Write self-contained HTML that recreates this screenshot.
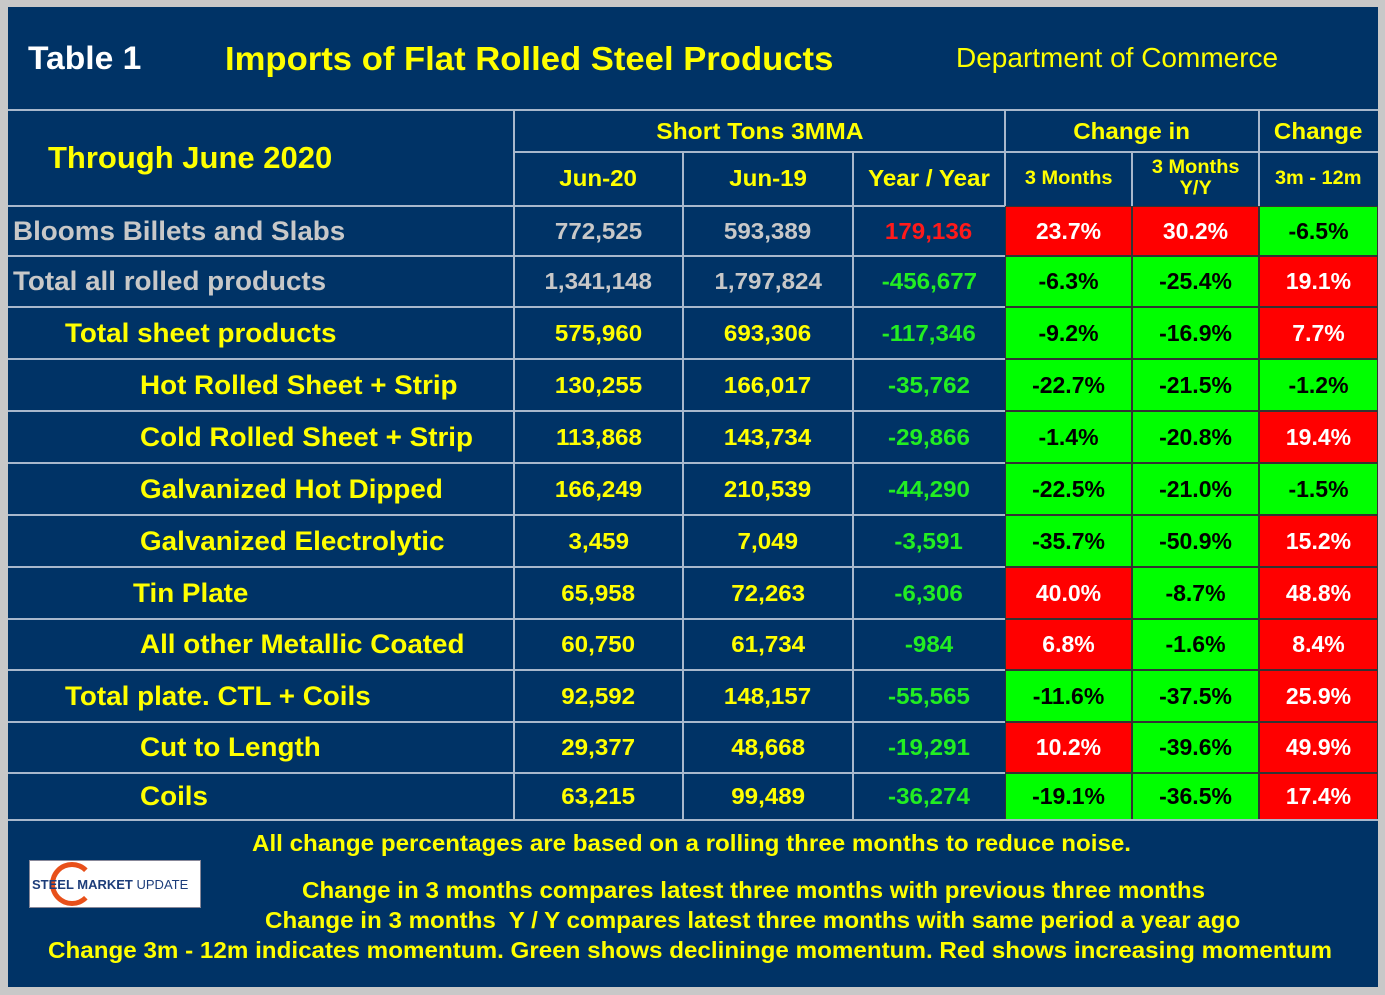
<!DOCTYPE html>
<html><head><meta charset="utf-8"><style>
body{margin:0;width:1385px;height:995px;background:#c8c8c8;overflow:hidden;font-family:"Liberation Sans",Arial,sans-serif;font-weight:bold}
#panel{position:absolute;left:8px;top:7px;width:1370px;height:980px;background:#003366}
.t{position:absolute;white-space:nowrap;transform-origin:left center}
.c{position:absolute;display:flex;align-items:center;justify-content:center;box-sizing:border-box;white-space:nowrap}
.c span{display:inline-block}
.hl{position:absolute;background:#a8b8cc;height:2px}
.vl{position:absolute;background:#a8b8cc;width:2px}
</style></head><body>
<div id="panel"></div>
<div class="t" style="left:28px;top:40px;font-size:32px;color:#fff;transform:scaleX(1.05)">Table 1</div>
<div class="t" style="left:225px;top:40px;font-size:33px;color:#ffff00;transform:scaleX(1.05)">Imports of Flat Rolled Steel Products</div>
<div class="t" style="left:956px;top:42px;font-size:28px;font-weight:normal;color:#ffff00">Department of Commerce</div>
<div class="t" style="left:48px;top:140px;font-size:31px;color:#ffff00">Through June 2020</div>
<div id="grid"></div>
<div class="t" style="left:252px;top:830px;font-size:23px;color:#ffff00;transform:scaleX(1.05)">All change percentages are based on a rolling three months to reduce noise.</div>
<div class="t" style="left:302px;top:877px;font-size:23px;color:#ffff00;transform:scaleX(1.05)">Change in 3 months compares latest three months with previous three months</div>
<div class="t" style="left:265px;top:907px;font-size:23px;color:#ffff00;transform:scaleX(1.05)">Change in 3 months&nbsp; Y / Y compares latest three months with same period a year ago</div>
<div class="t" style="left:48px;top:937px;font-size:23px;color:#ffff00;transform:scaleX(1.052)">Change 3m - 12m indicates momentum. Green shows declininge momentum. Red shows increasing momentum</div>
<div style="position:absolute;left:29px;top:860px;width:170px;height:46px;background:#fff;border:1px solid #889;overflow:hidden">
<div style="position:absolute;left:20px;top:1px;width:44px;height:44px;border-radius:50%;border:5px solid #e8501a;border-right-color:transparent;box-sizing:border-box"></div>
<div style="position:absolute;left:2px;top:16px;font-size:13px;color:#1d3d7a;white-space:nowrap">STEEL MARKET <span style="font-weight:normal">UPDATE</span></div></div>
<script>
const labels=["Blooms Billets and Slabs","Total all rolled products","Total sheet products","Hot Rolled Sheet + Strip","Cold Rolled Sheet + Strip","Galvanized Hot Dipped","Galvanized Electrolytic","Tin Plate","All other Metallic Coated","Total plate. CTL + Coils","Cut to Length","Coils"];
const jun20=["772,525","1,341,148","575,960","130,255","113,868","166,249","3,459","65,958","60,750","92,592","29,377","63,215"];
const jun19=["593,389","1,797,824","693,306","166,017","143,734","210,539","7,049","72,263","61,734","148,157","48,668","99,489"];
const yoy=["179,136","-456,677","-117,346","-35,762","-29,866","-44,290","-3,591","-6,306","-984","-55,565","-19,291","-36,274"];
const chg3m=[23.7,-6.3,-9.2,-22.7,-1.4,-22.5,-35.7,40.0,6.8,-11.6,10.2,-19.1];
const chg3mYY=[30.2,-25.4,-16.9,-21.5,-20.8,-21.0,-50.9,-8.7,-1.6,-37.5,-39.6,-36.5];
const chgMom=[-6.5,19.1,7.7,-1.2,19.4,-1.5,15.2,48.8,8.4,25.9,49.9,17.4];
const indents=[13,13,65,140,140,140,140,133,140,65,140,140];
const rowY=[206,256,307,359,411,463,515,567,619,670,722,773,820];
const colX=[8,514,683,853,1005,1132,1259,1378];
const g=document.getElementById('grid');
function add(cls,name,style,txt,sx){const d=document.createElement('div');d.className=cls;


d.style.cssText=style;
if(txt!==undefined){const s=document.createElement('span');s.innerHTML=txt;if(sx){s.style.transform='scaleX('+sx+')';s.style.transformOrigin=cls==='c'&&style.indexOf('flex-start')>=0?'left center':'center';}d.appendChild(s);}
g.appendChild(d);return d;}
add('hl','header-top-line','left:8px;top:109px;width:1370px');
add('hl','header-mid-line','left:514px;top:151px;width:864px');
add('c','header-short-tons','left:514px;top:110px;width:491px;height:42px;font-size:23px;color:#ff0',"Short Tons 3MMA",1.07);
add('c','header-change-in','left:1005px;top:110px;width:254px;height:42px;font-size:23px;color:#ff0',"Change in",1.05);
add('c','header-change','left:1259px;top:110px;width:119px;height:42px;font-size:23px;color:#ff0',"Change",1.05);
const sub=["Jun-20","Jun-19","Year / Year","3 Months","3 Months<br>Y/Y","3m - 12m"];
sub.forEach((s,i)=>{add('c','header-'+i,`left:${colX[i+1]}px;top:152px;width:${colX[i+2]-colX[i+1]}px;height:54px;font-size:${i<3?23:19}px;color:#ff0;text-align:center;line-height:1.1`,s,1.05);});
function fmt(v){return v.toFixed(1)+'%';}
labels.forEach((l,r)=>{
 const y=rowY[r],h=rowY[r+1]-y;const gray=r<2;
 add('c','row-label-'+r,`left:${indents[r]}px;top:${y}px;height:${h}px;justify-content:flex-start;font-size:27px;color:${gray?'#c8c8c8':'#ff0'}`,l,1.03);
 [jun20,jun19].forEach((a,k)=>add('c',(k?'jun19-':'jun20-')+r,`left:${colX[k+1]}px;top:${y}px;width:${colX[k+2]-colX[k+1]}px;height:${h}px;font-size:23px;color:${gray?'#c8c8c8':'#ff0'}`,a[r],1.05));
 add('c','yoy-'+r,`left:853px;top:${y}px;width:152px;height:${h}px;font-size:23px;color:${yoy[r][0]==='-'?'#22ee22':'#ff1a1a'}`,yoy[r],1.05);
 [chg3m,chg3mYY,chgMom].forEach((a,k)=>{const v=a[r];const up=v>0;
  add('c','pct-'+k+'-'+r,`left:${colX[k+4]}px;top:${y}px;width:${colX[k+5]-colX[k+4]}px;height:${h}px;font-size:23px;background:${up?'#ff0000':'#00ff00'};color:${up?'#fff':'#000'};border:1px solid #333`,fmt(v));});
});
rowY.forEach((y,i)=>add('hl','row-line-'+i,`left:8px;top:${y-1}px;width:997px`));
add('hl','row-line-bottom',`left:8px;top:819px;width:1370px`);
[514,683,853].forEach((x,i)=>add('vl','col-line-'+i,`left:${x-1}px;top:${i==0?110:152}px;height:${820-(i==0?110:152)}px`));
[1005,1132,1259].forEach((x,i)=>add('vl','hdr-col-line-'+i,`left:${x-1}px;top:${i==1?152:110}px;height:${206-(i==1?152:110)}px`));
</script>
</body></html>
